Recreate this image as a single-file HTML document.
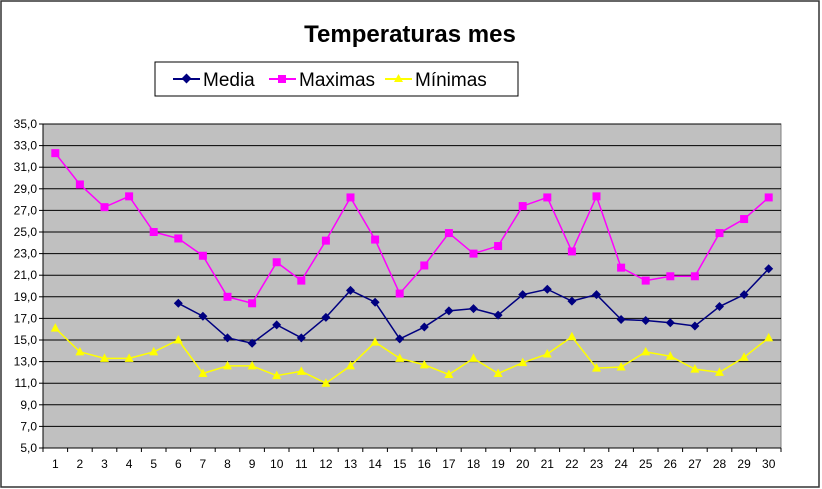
<!DOCTYPE html>
<html><head><meta charset="utf-8"><style>
body{margin:0;background:#fff;}
svg{display:block;font-family:"Liberation Sans",Arial,sans-serif;}
</style></head><body>
<svg id="chart" width="822" height="489">
<rect x="1" y="1" width="818" height="486" fill="#fff" stroke="#333" stroke-width="1.5"/>
<text x="410" y="42" text-anchor="middle" font-size="24" font-weight="bold">Temperaturas mes</text>
<g>
<rect x="155" y="62" width="363" height="34" fill="#fff" stroke="#000"/>
<g><line x1="173" y1="79" x2="200" y2="79" stroke="#000080" stroke-width="2"/><rect x="183" y="75" width="7" height="7" fill="#000080" transform="rotate(45 186.5 78.5)"/><text x="203" y="86" font-size="19">Media</text></g>
<g><line x1="269" y1="79" x2="296" y2="79" stroke="#FF00FF" stroke-width="2"/><rect x="278" y="75" width="8" height="8" fill="#FF00FF"/><text x="299" y="86" font-size="19">Maximas</text></g>
<g><line x1="385" y1="79" x2="412" y2="79" stroke="#FFFF00" stroke-width="2"/><polygon points="398.5,74 403,82 394,82" fill="#FFFF00"/><text x="415" y="86" font-size="19">Mínimas</text></g>
</g>
<g id="plot"></g>
</svg>
<script>
const days = Array.from({length:30},(_,i)=>String(i+1));
const yTicks = [5,7,9,11,13,15,17,19,21,23,25,27,29,31,33,35];
const media = [null,null,null,null,null,18.4,17.2,15.2,14.7,16.4,15.2,17.1,19.6,18.5,15.1,16.2,17.7,17.9,17.3,19.2,19.7,18.6,19.2,16.9,16.8,16.6,16.3,18.1,19.2,21.6];
const maximas = [32.3,29.4,27.3,28.3,25.0,24.4,22.8,19.0,18.4,22.2,20.5,24.2,28.2,24.3,19.3,21.9,24.9,23.0,23.7,27.4,28.2,23.2,28.3,21.7,20.5,20.9,20.9,24.9,26.2,28.2];
const minimas = [16.1,13.9,13.3,13.3,13.9,15.0,11.9,12.6,12.6,11.7,12.1,11.0,12.6,14.8,13.3,12.7,11.8,13.3,11.9,12.9,13.7,15.3,12.4,12.5,13.9,13.5,12.3,12.0,13.4,15.2];

const L=43,R=781,T=124,B=448,ymin=5,ymax=35;
const cw=(R-L)/days.length;
const x=i=>L+cw*(i+0.5);
const y=v=>B-(v-ymin)/(ymax-ymin)*(B-T);
const NS="http://www.w3.org/2000/svg";
const g=document.getElementById('plot');
function mk(t,a,p){const e=document.createElementNS(NS,t);for(const k in a)e.setAttribute(k,a[k]);(p||g).appendChild(e);return e;}

const bg=mk('rect',{x:L,y:T,width:R-L,height:B-T,fill:'#C0C0C0',stroke:'#808080'});


yTicks.forEach(v=>{
  const gl=mk('line',{x1:L,x2:R,y1:y(v),y2:y(v),stroke:'#000','stroke-width':1});
  
  
  mk('line',{x1:L-4,x2:L,y1:y(v),y2:y(v),stroke:'#000'});
  const t=mk('text',{x:L-6,y:y(v)+4,'text-anchor':'end','font-size':12});
  t.textContent=v.toFixed(1).replace('.',',');
  
  
});
mk('line',{x1:L,x2:L,y1:T,y2:B,stroke:'#000'});
mk('line',{x1:L,x2:R,y1:B,y2:B,stroke:'#000'});
days.forEach((d,i)=>{
  mk('line',{x1:L+cw*i,x2:L+cw*i,y1:B,y2:B+4,stroke:'#000'});
  const t=mk('text',{x:x(i),y:B+20,'text-anchor':'middle','font-size':12});
  t.textContent=d;
  
  
});
mk('line',{x1:R,x2:R,y1:B,y2:B+4,stroke:'#000'});

function series(data,color,shape,name){
  const sg=mk('g',{});
  
  
  const pts=[];data.forEach((v,i)=>{if(v!=null)pts.push(x(i)+','+y(v));});
  const pl=mk('polyline',{points:pts.join(' '),fill:'none',stroke:color,'stroke-width':1.5},sg);
  
  
  data.forEach((v,i)=>{
    if(v==null)return;
    const cx=x(i),cy=y(v);let m;
    if(shape==='diamond')m=mk('polygon',{points:`${cx},${cy-4.5} ${cx+4.5},${cy} ${cx},${cy+4.5} ${cx-4.5},${cy}`,fill:color},sg);
    else if(shape==='square')m=mk('rect',{x:cx-4,y:cy-4,width:8,height:8,fill:color},sg);
    else m=mk('polygon',{points:`${cx},${cy-5} ${cx+4.5},${cy+3.5} ${cx-4.5},${cy+3.5}`,fill:color},sg);
    
    
  });
}
series(maximas,'#FF00FF','square','series-maximas');
series(media,'#000080','diamond','series-media');
series(minimas,'#FFFF00','triangle','series-minimas');
</script>
</body></html>
